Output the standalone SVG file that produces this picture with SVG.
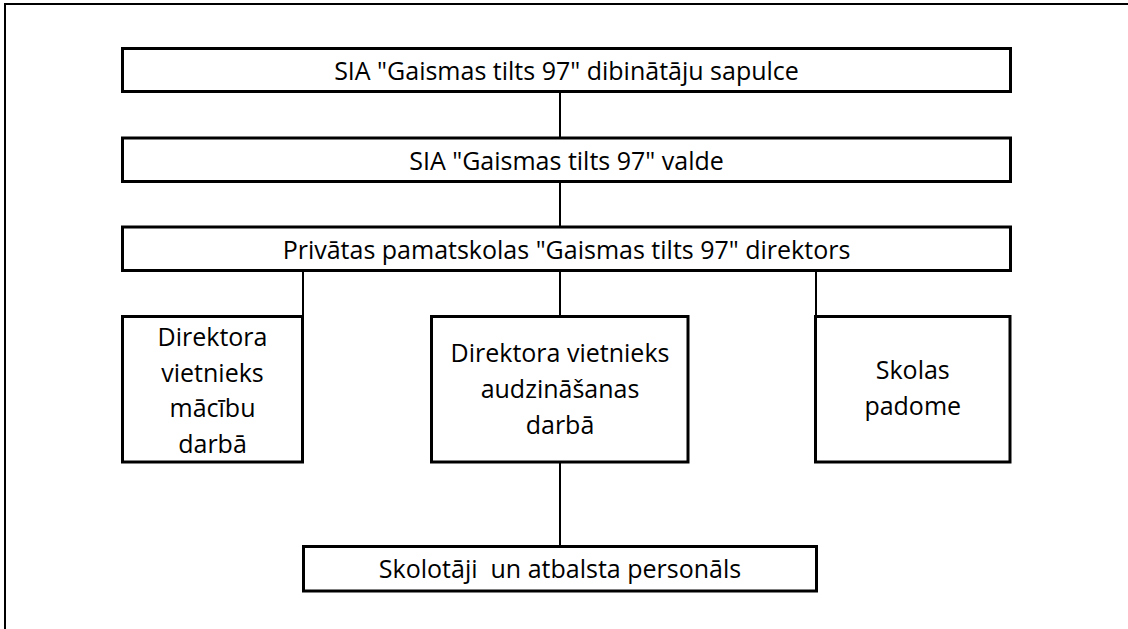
<svg xmlns="http://www.w3.org/2000/svg" width="1128" height="629" viewBox="0 0 1128 629">
<style>
.box{fill:#fff;stroke:#000;stroke-width:3}
.frame{fill:none;stroke:#000;stroke-width:2}
.conn{fill:none;stroke:#000;stroke-width:2}
text{font-family:"Open Sans","Noto Sans","Liberation Sans",sans-serif;font-size:25px;fill:#000;text-anchor:middle}
</style>
<rect width="1128" height="629" fill="#fff"/>
<path class="frame" d="M5,629 V4 H1128"/>
<g id="connectors">
<line class="conn" x1="560" y1="93" x2="560" y2="138"/>
<line class="conn" x1="560" y1="182" x2="560" y2="227"/>
<line class="conn" x1="303" y1="271" x2="303" y2="317"/>
<line class="conn" x1="560" y1="271" x2="560" y2="317"/>
<line class="conn" x1="816" y1="271" x2="816" y2="317"/>
<line class="conn" x1="560" y1="462" x2="560" y2="547"/>
</g>
<g id="n1"><rect class="box" x="122.5" y="48.5" width="888" height="43"/><text x="566.5" y="80">SIA "Gaismas tilts 97" dibinātāju sapulce</text></g>
<g id="n2"><rect class="box" x="122.5" y="138" width="888" height="43.5"/><text x="566.5" y="169.5">SIA "Gaismas tilts 97" valde</text></g>
<g id="n3"><rect class="box" x="122.5" y="227" width="888" height="43.5"/><text x="566.5" y="258.5">Privātas pamatskolas "Gaismas tilts 97" direktors</text></g>
<g id="n4"><rect class="box" x="122.5" y="316.5" width="180" height="145.5"/><text x="212.5" y="346">Direktora</text><text x="212.5" y="381.5">vietnieks</text><text x="212.5" y="417">mācību</text><text x="212.5" y="452.5">darbā</text></g>
<g id="n5"><rect class="box" x="431.5" y="316.5" width="256.5" height="145.5"/><text x="560" y="361.5">Direktora vietnieks</text><text x="560" y="397.5">audzināšanas</text><text x="560" y="433.5">darbā</text></g>
<g id="n6"><rect class="box" x="815.5" y="316.5" width="194.5" height="145.5"/><text x="912.75" y="379">Skolas</text><text x="912.75" y="414.5">padome</text></g>
<g id="n7"><rect class="box" x="303.5" y="546.5" width="513" height="44.5"/><text x="560" y="578" xml:space="preserve">Skolotāji  un atbalsta personāls</text></g>
</svg>
